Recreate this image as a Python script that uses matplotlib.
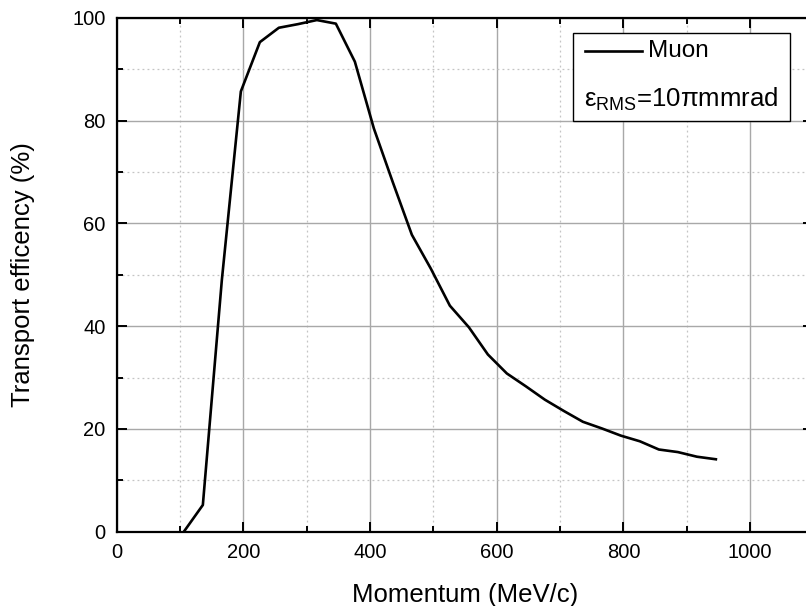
import matplotlib
matplotlib.use('Agg')
import matplotlib.pyplot as plt
from matplotlib.ticker import MultipleLocator
from matplotlib.patches import Rectangle
from matplotlib.lines import Line2D

plt.rcParams['font.family'] = ['Liberation Sans', 'DejaVu Sans']
plt.rcParams['mathtext.fontset'] = 'custom'
plt.rcParams['mathtext.rm'] = 'Liberation Sans'
plt.rcParams['mathtext.it'] = 'Liberation Sans'

# momentum (MeV/c) and transport efficiency (%)
momentum = [106, 136, 166, 196, 226, 256, 286, 316, 346, 376, 406, 436, 466,
            496, 526, 556, 586, 616, 646, 676, 706, 736, 766, 796, 826, 856,
            886, 916, 946]
efficiency = [0.0, 5.2, 49.0, 85.7, 95.3, 98.1, 98.8, 99.6, 98.9, 91.5, 78.5,
              68.0, 57.8, 51.2, 44.0, 39.8, 34.5, 30.8, 28.3, 25.7, 23.5,
              21.4, 20.1, 18.7, 17.6, 16.0, 15.5, 14.6, 14.1]

fig = plt.figure(figsize=(8.06, 6.06), dpi=100)
# axes run past the right edge, as in the reference (right spine cut off)
ax = fig.add_axes([0.1448, 0.1226, 0.8644, 0.8477])

ax.plot(momentum, efficiency, color='black', lw=1.9)

ax.set_xlim(0, 1100)
ax.set_ylim(0, 100)
ax.xaxis.set_major_locator(MultipleLocator(200))
ax.xaxis.set_minor_locator(MultipleLocator(100))
ax.yaxis.set_major_locator(MultipleLocator(20))
ax.yaxis.set_minor_locator(MultipleLocator(10))

ax.grid(which='major', color='#a8a8a8', lw=1.0, ls='-')
ax.grid(which='minor', color='#c4c4c4', lw=0.9, ls=(0, (1.5, 2.5)))
ax.set_axisbelow(True)

ax.tick_params(which='both', direction='in', top=True, right=True,
               labelsize=14.5, width=1.4, pad=8)
ax.tick_params(which='major', length=7.5)
ax.tick_params(which='minor', length=4.3)
for s in ax.spines.values():
    s.set_linewidth(1.6)

ax.set_xlabel('Momentum (MeV/c)', fontsize=18.5, labelpad=15)
ax.set_ylabel('Transport efficency (%)', fontsize=18.5, labelpad=27)

# legend box
ax.add_patch(Rectangle((0.6545, 0.8001), 0.3119, 0.1701, transform=ax.transAxes,
                       facecolor='white', edgecolor='black', lw=1.0, zorder=5))
ax.add_line(Line2D([0.672, 0.7536], [0.9358, 0.9358], transform=ax.transAxes,
                   color='black', lw=1.9, zorder=6))
ax.text(0.763, 0.9358, 'Muon', transform=ax.transAxes, fontsize=17.5,
        va='center', ha='left', zorder=6)
ax.text(0.670, 0.842, r'$\mathrm{ε_{RMS}}$=10πmmrad', transform=ax.transAxes,
        fontsize=18.5, va='center', ha='left', zorder=6)

fig.savefig('out.png', dpi=100)
